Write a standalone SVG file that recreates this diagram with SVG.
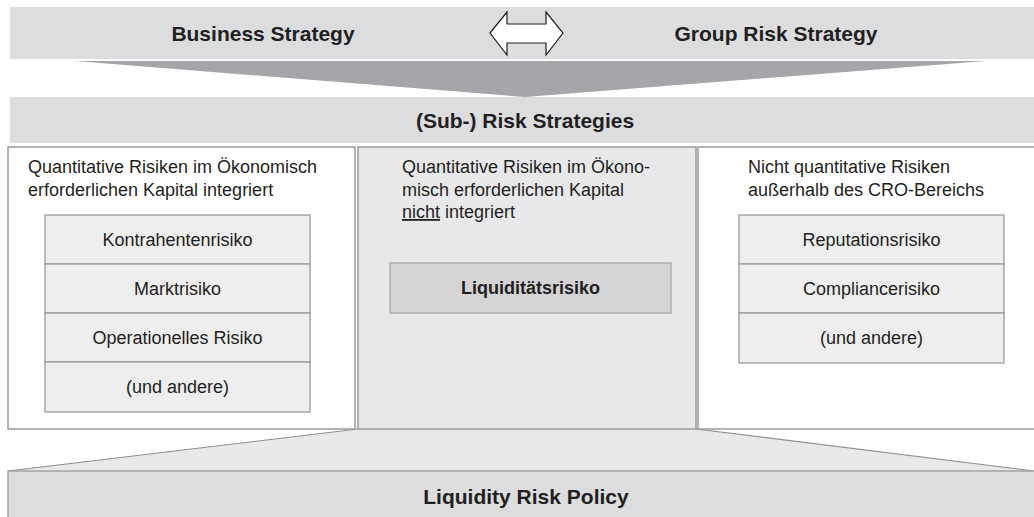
<svg xmlns="http://www.w3.org/2000/svg" width="1034" height="517" viewBox="0 0 1034 517">
  <style>
    .bar { fill: #dcdddf; }
    .frame { stroke: #9a9a9c; stroke-width: 1.5; }
    .cell { fill: #eeeeef; stroke: #9a9a9c; stroke-width: 1.3; }
    .title { font-family: "Liberation Sans", Arial, sans-serif; font-weight: bold; font-size: 21px; fill: #231f20; text-anchor: middle; }
    .txt { font-family: "Liberation Sans", Arial, sans-serif; font-size: 18px; fill: #231f20; }
    .mid { text-anchor: middle; }
  </style>
  <rect width="1034" height="517" fill="#ffffff"/>

  <!-- top level strategies -->
  <g id="strategy-bar">
    <rect class="bar" x="10" y="7" width="1024" height="52"/>
    <text class="title" x="263" y="41">Business Strategy</text>
    <text class="title" x="776" y="41">Group Risk Strategy</text>
  </g>

  <g id="connectors">
    <!-- two-way arrow between strategies -->
    <polygon points="490,33 507,12 507,24 546,24 546,12 563,33 546,55 546,43 507,43 507,55" fill="#ffffff" stroke="#231f20" stroke-width="1.2"/>
    <!-- funnel into sub-strategies -->
    <polygon points="75,61 986,61 525,97" fill="#a5a6a9"/>
    <!-- widening from liquidity column to policy -->
    <polygon points="358,429 696,429 1034,471 8,471" fill="#e9e9eb"/>
    <polyline points="8,471 358,429" fill="none" stroke="#8e8e90" stroke-width="1.2"/>
    <polyline points="696,429 1034,471" fill="none" stroke="#8e8e90" stroke-width="1.2"/>
  </g>

  <g id="sub-risk-strategies">
    <rect class="bar" x="10" y="97" width="1024" height="46"/>
    <text class="title" x="525" y="128">(Sub-) Risk Strategies</text>
  </g>

  <!-- left column -->
  <g id="integrated-risks">
    <rect class="frame" x="8" y="147" width="347" height="282" fill="#ffffff"/>
    <text class="txt" x="28" y="173">Quantitative Risiken im Ökonomisch</text>
    <text class="txt" x="28" y="196">erforderlichen Kapital integriert</text>
    <rect class="cell" x="45" y="215" width="265" height="49"/>
    <rect class="cell" x="45" y="264" width="265" height="49"/>
    <rect class="cell" x="45" y="313" width="265" height="49"/>
    <rect class="cell" x="45" y="362" width="265" height="50"/>
    <text class="txt mid" x="177.5" y="246">Kontrahentenrisiko</text>
    <text class="txt mid" x="177.5" y="295">Marktrisiko</text>
    <text class="txt mid" x="177.5" y="344">Operationelles Risiko</text>
    <text class="txt mid" x="177.5" y="393">(und andere)</text>
  </g>

  <!-- middle column -->
  <g id="non-integrated-risks">
    <rect class="frame" x="358" y="147" width="338" height="282" fill="#e9e9eb"/>
    <text class="txt" x="402" y="173">Quantitative Risiken im Ökono-</text>
    <text class="txt" x="402" y="195.5">misch erforderlichen Kapital</text>
    <text class="txt" x="402" y="218"><tspan text-decoration="underline">nicht</tspan> integriert</text>
    <rect x="390" y="263" width="281" height="50" fill="#d4d4d6" stroke="#a8a8aa" stroke-width="1.3"/>
    <text class="txt mid" x="530.5" y="294" font-weight="bold" font-size="18.5">Liquiditätsrisiko</text>
  </g>

  <!-- right column -->
  <g id="non-quantitative-risks">
    <rect class="frame" x="698" y="147" width="340" height="282" fill="#ffffff"/>
    <text class="txt" x="748" y="173">Nicht quantitative Risiken</text>
    <text class="txt" x="748" y="196">außerhalb des CRO-Bereichs</text>
    <rect class="cell" x="739" y="215" width="265" height="49"/>
    <rect class="cell" x="739" y="264" width="265" height="49"/>
    <rect class="cell" x="739" y="313" width="265" height="50"/>
    <text class="txt mid" x="871.5" y="246">Reputationsrisiko</text>
    <text class="txt mid" x="871.5" y="295">Compliancerisiko</text>
    <text class="txt mid" x="871.5" y="344">(und andere)</text>
  </g>

  <!-- policy bar -->
  <g id="liquidity-risk-policy">
    <rect x="8" y="471" width="1030" height="50" fill="#dcdddf" stroke="#9a9a9c" stroke-width="1.3"/>
    <text class="title" x="526" y="504">Liquidity Risk Policy</text>
  </g>
</svg>
